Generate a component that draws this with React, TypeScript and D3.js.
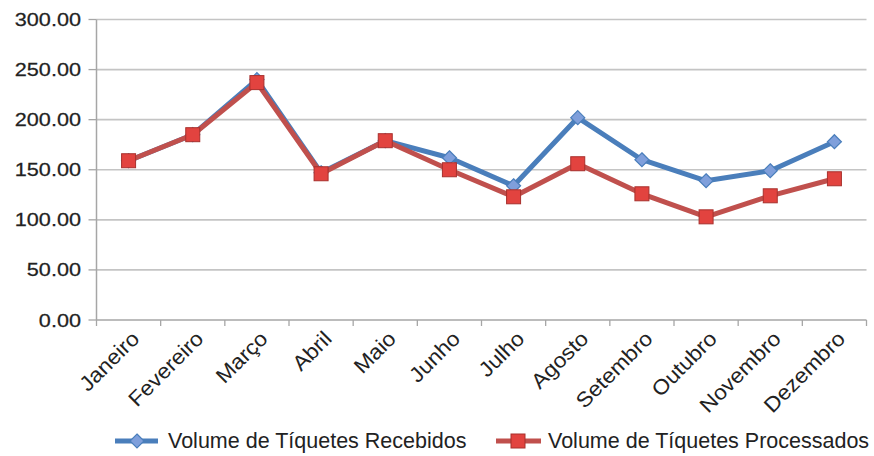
import React from "react";
import * as d3 from "d3";

const months = ["Janeiro","Fevereiro","Março","Abril","Maio","Junho","Julho","Agosto","Setembro","Outubro","Novembro","Dezembro"];
const recebidos = [159, 185, 240, 147, 179, 162, 134, 202, 160, 139, 149, 178];
const processados = [159, 185, 237, 146, 179, 150, 123, 156, 126, 103, 124, 141];
const yTicks = [0, 50, 100, 150, 200, 250, 300];
const seriesNames = ["Volume de Tíquetes Recebidos", "Volume de Tíquetes Processados"];

const W = 874, H = 456;
const left = 96.5, right = 866.5, top = 19.5, bottom = 320;
const FONT = "'Liberation Sans', Arial, sans-serif";
const BLUE = "#4a7ebb", BLUE_FILL = "#7f9fdb";
const RED = "#c0504d", RED_FILL = "#e2433f", RED_STROKE = "#a8302d";

export default function App() {
  const x = d3.scaleBand<string>().domain(months).range([left, right]);
  const y = d3.scaleLinear().domain([0, 300]).range([bottom, top]);
  const cx = (m: string) => (x(m) as number) + x.bandwidth() / 2;
  const line = d3.line<number>().x((_, i) => cx(months[i])).y((d) => y(d));
  const diamond = (px: number, py: number, r: number) =>
    `M${px},${py - r}L${px + r},${py}L${px},${py + r}L${px - r},${py}Z`;
  const boundaries = d3.range(months.length + 1).map((i) => left + i * x.bandwidth());

  return (
    <svg width={W} height={H} style={{ position: "absolute", left: 0, top: 0, background: "#fff" }} fontFamily={FONT}>
      {yTicks.map((t) => (
        <g key={t}>
          <line x1={left} x2={right} y1={y(t)} y2={y(t)} stroke={t === 0 ? "#a6a6a6" : "#c4c4c4"} strokeWidth={1.6} />
          <line x1={left - 8} x2={left} y1={y(t)} y2={y(t)} stroke="#a6a6a6" strokeWidth={1.3} />
          <text
            transform={`translate(81,${y(t)}) scale(1.14,1)`}
            textAnchor="end"
            dominantBaseline="central"
            fontSize={19}
            fill="#222"
            stroke="#222"
            strokeWidth={0.25}
          >
            {t.toFixed(2)}
          </text>
        </g>
      ))}
      <line x1={left} x2={left} y1={top} y2={bottom} stroke="#a6a6a6" strokeWidth={1.5} />
      {boundaries.map((b, i) => (
        <line key={i} x1={b} x2={b} y1={bottom} y2={bottom + 6} stroke="#a6a6a6" strokeWidth={1.3} />
      ))}
      {months.map((m) => (
        <text
          key={m}
          transform={`translate(${cx(m) + 12},${bottom + 20}) rotate(-45) scale(1.08,1)`}
          textAnchor="end"
          fontSize={21}
          fill="#222"
        >
          {m}
        </text>
      ))}
      <path d={line(recebidos) || ""} fill="none" stroke={BLUE} strokeWidth={5} strokeLinejoin="round" />
      {recebidos.map((v, i) => (
        <path key={i} d={diamond(cx(months[i]), y(v), 7)} fill={BLUE_FILL} stroke={BLUE} strokeWidth={1.2} />
      ))}
      <path d={line(processados) || ""} fill="none" stroke={RED} strokeWidth={5} strokeLinejoin="round" />
      {processados.map((v, i) => (
        <rect key={i} x={cx(months[i]) - 7} y={y(v) - 7} width={14} height={14} fill={RED_FILL} stroke={RED_STROKE} strokeWidth={1} />
      ))}
      <g>
        <line x1={115} x2={158} y1={441} y2={441} stroke={BLUE} strokeWidth={5} />
        <path d={diamond(137, 441, 7)} fill={BLUE_FILL} stroke={BLUE} strokeWidth={1.2} />
        <text x={168} y={441} dominantBaseline="central" fontSize={21.5} fill="#222">{seriesNames[0]}</text>
        <line x1={496} x2={541} y1={441} y2={441} stroke={RED} strokeWidth={5} />
        <rect x={511} y={434} width={14} height={14} fill={RED_FILL} stroke={RED_STROKE} strokeWidth={1} />
        <text x={548} y={441} dominantBaseline="central" fontSize={21.5} fill="#222">{seriesNames[1]}</text>
      </g>
    </svg>
  );
}
